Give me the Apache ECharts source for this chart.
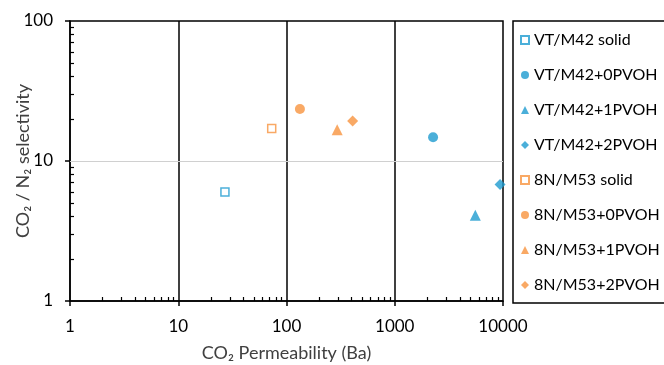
<!DOCTYPE html>
<html>
<head>
<meta charset="utf-8">
<script src="https://cdn.jsdelivr.net/npm/echarts@6/dist/echarts.min.js"></script>
<style>
  html, body { margin: 0; padding: 0; background: #fff; }
  #chart { width: 664px; height: 365px; }
</style>
</head>
<body>
<div id="chart"></div>
<script>
var seriesNames = ['VT/M42 solid', 'VT/M42+0PVOH', 'VT/M42+1PVOH', 'VT/M42+2PVOH',
                   '8N/M53 solid', '8N/M53+0PVOH', '8N/M53+1PVOH', '8N/M53+2PVOH'];
// CO2 permeability (Ba)
var permeability = [27, 2260, 5550, 9400, 73, 133, 294, 408];
// CO2/N2 selectivity
var selectivity = [6.0, 14.8, 4.1, 6.8, 17.1, 23.5, 16.7, 19.3];

var xTicks = [1, 10, 100, 1000, 10000];
var yTicks = [1, 10, 100];
var yGridValues = [10];
var xMinorTicks = [2, 3, 4, 5, 6, 7, 8, 9, 20, 30, 40, 50, 60, 70, 80, 90,
                   200, 300, 400, 500, 600, 700, 800, 900, 2000, 3000, 4000, 5000, 6000, 7000, 8000, 9000];
var yMinorTicks = [2, 3, 4, 5, 6, 7, 8, 9, 20, 30, 40, 50, 60, 70, 80, 90];

var BLUE = '#1e9bd0';
var ORANGE = '#f7943f';
var shapes = ['rect', 'circle', 'triangle', 'diamond'];

var myChart = echarts.init(document.getElementById('chart'));

var series = seriesNames.map(function (name, i) {
    var color = i < 4 ? BLUE : ORANGE;
    var k = i % 4;
    var open = k === 0;
    return {
        name: name,
        type: 'scatter',
        data: [[permeability[i], selectivity[i]]],
        symbol: shapes[k],
        symbolSize: open ? 8 : (k === 1 ? 10 : 11),
        itemStyle: open ? { color: '#fff', borderColor: color, borderWidth: 1.5 } : { color: color },
        z: 5
    };
});

var fontFamily = 'Lato, "Open Sans", sans-serif';
var plain = function (v) { return String(v); };

myChart.setOption({
    animation: false,
    grid: {
        left: 70,
        right: 161,
        top: 21,
        bottom: 64,
        outerBoundsMode: 'none',
        containLabel: false,
        show: true,
        borderColor: '#000',
        borderWidth: 1.5,
        backgroundColor: 'transparent'
    },
    legend: {
        orient: 'vertical',
        left: 513,
        top: 21,
        data: seriesNames,
        borderColor: '#000',
        borderWidth: 1.5,
        padding: [10, 7, 9, 7],
        itemWidth: 8,
        itemHeight: 8,
        itemGap: 17,
        textStyle: {
            fontFamily: fontFamily,
            fontSize: 16,
            lineHeight: 18,
            color: '#000'
        }
    },
    xAxis: [{
        type: 'log',
        logBase: 10,
        min: 1,
        max: 10000,
        name: 'CO₂ Permeability (Ba)',
        nameLocation: 'middle',
        nameGap: 43,
        nameMoveOverlap: false,
        nameTextStyle: { fontFamily: fontFamily, fontSize: 18, color: '#404040', verticalAlign: 'top' },
        axisLine: { onZero: false, lineStyle: { color: '#000', width: 1.5 } },
        axisTick: { show: true, inside: false, length: 5, lineStyle: { color: '#000', width: 1.5 }, customValues: xTicks },
        axisLabel: { fontFamily: fontFamily, fontSize: 17, color: '#000', margin: 17, formatter: plain, customValues: xTicks },
        splitLine: { show: true, showMinLine: false, showMaxLine: false, lineStyle: { color: '#000', width: 1.5 } },
        minorTick: { show: false }
    }, {
        type: 'log',
        logBase: 10,
        min: 1,
        max: 10000,
        position: 'bottom',
        axisLine: { show: true, onZero: false, lineStyle: { color: 'rgba(0,0,0,0)' } },
        axisTick: { show: true, inside: true, length: 4, lineStyle: { color: '#000', width: 1.2 }, customValues: xMinorTicks },
        axisLabel: { show: false, customValues: xMinorTicks },
        splitLine: { show: false }
    }],
    yAxis: [{
        type: 'log',
        logBase: 10,
        min: 1,
        max: 100,
        name: 'CO₂ / N₂ selectivity',
        nameLocation: 'middle',
        nameGap: 38,
        nameMoveOverlap: false,
        nameTextStyle: { fontFamily: fontFamily, fontSize: 18, color: '#404040' },
        axisLine: { onZero: false, lineStyle: { color: '#000', width: 1.5 } },
        axisTick: { show: true, inside: false, length: 5, lineStyle: { color: '#000', width: 1.5 }, customValues: yTicks },
        axisLabel: { fontFamily: fontFamily, fontSize: 17, color: '#000', margin: 17, formatter: plain, customValues: yTicks },
        splitLine: { show: false },
        minorTick: { show: false }
    }, {
        type: 'log',
        logBase: 10,
        min: 1,
        max: 100,
        position: 'left',
        axisLine: { show: true, onZero: false, lineStyle: { color: 'rgba(0,0,0,0)' } },
        axisTick: { show: true, inside: true, length: 4, lineStyle: { color: '#000', width: 1.2 }, customValues: yMinorTicks },
        axisLabel: { show: false, customValues: yMinorTicks },
        splitLine: { show: false }
    }, {
        type: 'log',
        logBase: 10,
        min: 1,
        max: 100,
        position: 'left',
        axisLine: { show: false, onZero: false },
        axisTick: { show: false, customValues: yGridValues },
        axisLabel: { show: false, customValues: yGridValues },
        splitLine: { show: true, lineStyle: { color: '#d0d0d0', width: 1.2 } },
        z: 1
    }],
    series: series
});
</script>
</body>
</html>
